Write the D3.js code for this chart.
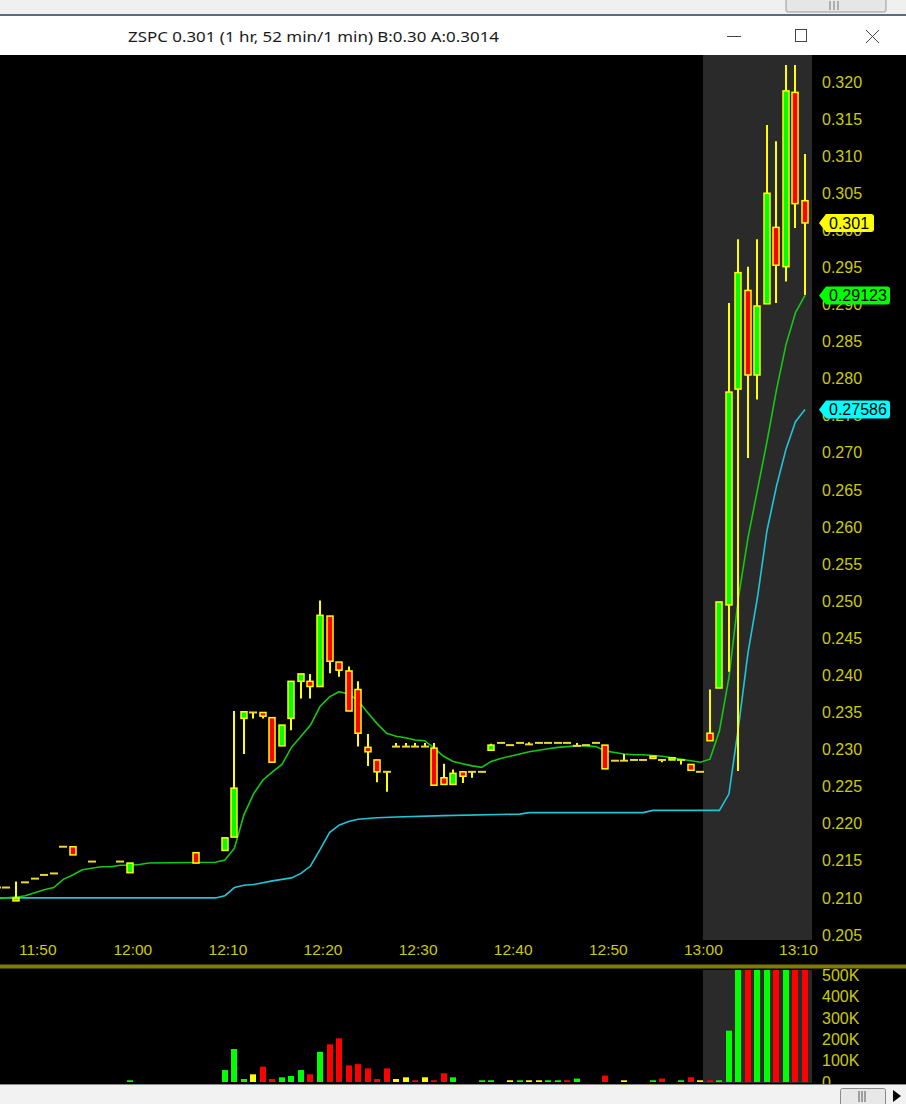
<!DOCTYPE html>
<html><head><meta charset="utf-8">
<script src="https://cdn.jsdelivr.net/npm/d3@7"></script>
<style>html,body{margin:0;padding:0;background:#000;}svg{display:block}</style>
</head><body>
<svg id="c" width="906" height="1104"></svg>
<script>
// ---------- DATA ----------
const titleText = "ZSPC 0.301 (1 hr, 52 min/1 min) B:0.30 A:0.3014";
const times  = ["11:46","11:47","11:48","11:49","11:50","11:51","11:52","11:53","11:54","11:56","11:59","12:00","12:07","12:10","12:11","12:12","12:13","12:14","12:15","12:16","12:17","12:18","12:19","12:20","12:21","12:22","12:23","12:24","12:25","12:26","12:27","12:28","12:29","12:30","12:31","12:32","12:33","12:34","12:35","12:36","12:37","12:38","12:39","12:40","12:41","12:42","12:43","12:44","12:45","12:46","12:47","12:48","12:49","12:50","12:51","12:52","12:53","12:54","12:55","12:56","12:57","12:58","12:59","13:00","13:01","13:02","13:03","13:04","13:05","13:06","13:07","13:08","13:09","13:10","13:11"];
const opens  = [.2114,.2114,.2096,.2121,.2126,.2131,.2133,.2169,.2169,.2149,.2149,.2134,.2161,.2164,.2182,.2342,.2350,.2350,.2343,.2305,.2342,.2392,.2392,.2385,.2480,.2418,.2406,.2381,.2303,.2286,.2270,.2304,.2304,.2304,.2304,.2302,.2262,.2253,.2270,.2270,.2270,.2299,.2309,.2306,.2309,.2307,.2309,.2309,.2309,.2309,.2305,.2306,.2309,.2306,.2285,.2285,.2286,.2286,.2288,.2286,.2286,.2286,.2280,.2270,.2322,.2383,.2495,.2786,.2919,.2805,.2901,.3004,.2951,.3186,.3040];
const highs  = [.2114,.2114,.2122,.2121,.2126,.2131,.2133,.2169,.2169,.2149,.2149,.2147,.2161,.2181,.2352,.2351,.2350,.2350,.2343,.2333,.2392,.2402,.2402,.2501,.2480,.2418,.2412,.2392,.2321,.2286,.2270,.2309,.2309,.2309,.2309,.2309,.2281,.2273,.2270,.2270,.2270,.2308,.2309,.2306,.2309,.2310,.2309,.2309,.2309,.2309,.2309,.2306,.2309,.2306,.2285,.2294,.2286,.2286,.2291,.2286,.2289,.2286,.2280,.2270,.2381,.2499,.2902,.2988,.2951,.2988,.3142,.3120,.3223,.3223,.3103];
const lows   = [.2114,.2114,.2096,.2121,.2126,.2131,.2133,.2169,.2158,.2149,.2149,.2134,.2147,.2164,.2182,.2294,.2342,.2342,.2283,.2305,.2326,.2369,.2369,.2385,.2403,.2398,.2352,.2304,.2278,.2256,.2243,.2304,.2304,.2304,.2304,.2252,.2253,.2253,.2255,.2262,.2270,.2299,.2309,.2306,.2309,.2307,.2309,.2309,.2309,.2309,.2305,.2306,.2309,.2274,.2285,.2285,.2286,.2286,.2288,.2283,.2286,.2280,.2272,.2270,.2312,.2383,.2405,.2271,.2693,.2772,.2901,.2902,.2931,.3003,.2913];
const closes = [.2114,.2114,.2100,.2121,.2126,.2131,.2133,.2169,.2158,.2149,.2149,.2147,.2147,.2181,.2248,.2351,.2350,.2345,.2283,.2333,.2392,.2402,.2385,.2481,.2419,.2407,.2352,.2322,.2297,.2270,.2270,.2304,.2304,.2304,.2304,.2252,.2253,.2268,.2264,.2270,.2270,.2306,.2309,.2306,.2309,.2307,.2309,.2309,.2309,.2309,.2305,.2306,.2309,.2274,.2285,.2285,.2286,.2286,.2291,.2286,.2289,.2286,.2272,.2270,.2312,.2499,.2782,.2943,.2805,.2898,.3050,.2953,.3188,.3036,.3010];
const volumes = [0,0,0,0,0,0,0,0,0,0,0,8000,0,56000,155000,14000,36000,72000,14000,22000,28000,56000,36000,142000,177000,205000,78000,84000,64000,14000,64000,14000,22000,8000,22000,8000,41000,22000,0,0,8000,8000,0,8000,8000,8000,8000,8000,8000,8000,16000,0,0,30000,0,8000,0,0,8000,16000,0,8000,22000,8000,8000,8000,241000,900000,800000,700000,700000,600000,900000,800000,600000];
const volColors = ["y","y","g","y","y","y","y","y","r","y","y","g","r","g","g","g","y","r","r","g","g","g","r","g","r","r","r","r","r","r","r","y","y","r","y","r","r","g","r","y","g","g","y","y","g","y","y","g","g","r","g","y","y","r","y","y","y","y","g","r","g","g","r","y","r","g","g","g","r","g","g","r","g","r","r"];

const fastTimes = ["11:46","11:48","11:49","11:50","11:51","11:52","11:53","11:54","11:55","11:56","11:57","11:58","11:59","12:00","12:01","12:02","12:09","12:10","12:11","12:12","12:13","12:14","12:15","12:16","12:17","12:18","12:19","12:20","12:21","12:22","12:23","12:24","12:25","12:26","12:27","12:28","12:29","12:30","12:31","12:32","12:33","12:34","12:35","12:36","12:37","12:38","12:39","12:40","12:41","12:42","12:43","12:44","12:45","12:46","12:47","12:48","12:49","12:50","12:51","12:52","12:53","12:54","12:55","12:56","12:57","12:58","12:59","13:00","13:01","13:02","13:03","13:04","13:05","13:06","13:07","13:08","13:09","13:10","13:11"];
const fastVals  = [.2099,.2101,.2103,.2107,.2111,.2114,.2125,.2131,.2138,.2140,.2142,.2142,.2144,.2144,.2145,.2147,.2148,.2151,.2167,.2212,.2240,.2259,.2270,.2280,.2303,.2318,.2333,.2358,.2371,.2378,.2375,.2366,.2350,.2335,.2322,.2318,.2316,.2313,.2312,.2302,.2291,.2284,.2281,.2278,.2276,.2284,.2288,.2291,.2294,.2297,.2299,.2301,.2303,.2304,.2305,.2305,.2304,.2298,.2296,.2294,.2293,.2293,.2292,.2291,.2289,.2287,.2285,.2283,.2287,.2325,.2397,.2505,.2585,.2650,.2715,.2785,.2846,.2889,.29123];
const slowTimes = ["11:46","12:09","12:10","12:11","12:12","12:13","12:15","12:17","12:18","12:19","12:20","12:21","12:22","12:23","12:24","12:26","12:28","12:33","12:41","12:42","12:54","12:55","13:02","13:03","13:04","13:05","13:06","13:07","13:08","13:09","13:10","13:11"];
const slowVals  = [.2100,.2100,.2103,.2114,.2117,.2118,.2123,.2127,.2133,.2143,.2165,.2188,.2198,.2203,.2206,.2208,.2209,.2211,.2213,.2215,.2215,.2218,.2218,.2240,.2330,.2430,.2505,.2595,.2655,.2705,.2742,.27586];

const priceTicks = [0.205,0.210,0.215,0.220,0.225,0.230,0.235,0.240,0.245,0.250,0.255,0.260,0.265,0.270,0.275,0.280,0.285,0.290,0.295,0.300,0.305,0.310,0.315,0.320];
const timeTicks = ["11:50","12:00","12:10","12:20","12:30","12:40","12:50","13:00","13:10"];
const volTicks = [0,100000,200000,300000,400000,500000];
const volTickLabels = ["0","100K","200K","300K","400K","500K"];
const shadeFrom = "13:00";

// ---------- LAYOUT ----------
const svg = d3.select('#c');
const W = 906, H = 1104;
const plotRight = 812, plotTop = 55, priceBottom = 940, sepY = 967, volTop = 970, volBottom = 1083;
const AX = "#cccc00";
const FONT = "'Liberation Sans', Arial, sans-serif";
const pt = s => { const [h,m] = s.split(':').map(Number); return h*60+m; };
const x = d3.scaleLinear().domain([pt("11:48"), pt("13:11")]).range([15.7, 805]);
const y = d3.scaleLinear().domain([0.205, 0.320]).range([935, 82]);
const yv = d3.scaleLinear().domain([0, 500000]).range([1082, 975.5]);

const candles = times.map((t,i)=>({t:pt(t),o:opens[i],h:highs[i],l:lows[i],c:closes[i],v:volumes[i],vc:volColors[i]}));
const colorOf = {g:"#00ff00", r:"#ff0000", y:"#ffff00"};

svg.append("rect").attr("width",W).attr("height",H).attr("fill","#000");
const defs = svg.append("defs");
defs.append("clipPath").attr("id","pclip").append("rect").attr("x",0).attr("y",plotTop).attr("width",plotRight).attr("height",sepY-3-plotTop);
defs.append("clipPath").attr("id","vclip").append("rect").attr("x",0).attr("y",volTop).attr("width",plotRight).attr("height",volBottom-volTop);

// shading (after-hours region)
const sx = x(pt(shadeFrom)) + 2.5;
svg.append("rect").attr("x",sx).attr("y",plotTop).attr("width",plotRight-sx).attr("height",priceBottom-plotTop).attr("fill","#2a2a2a");
svg.append("rect").attr("x",sx).attr("y",volTop).attr("width",plotRight-sx).attr("height",volBottom-volTop).attr("fill","#2a2a2a");

// separator
svg.append("rect").attr("x",0).attr("y",sepY-2.5).attr("width",W).attr("height",4).attr("fill","#7f7b0a");

// price axis
const pa = svg.append("g").attr("transform",`translate(818,0)`)
  .call(d3.axisRight(y).tickValues(priceTicks).tickFormat(d3.format(".3f")).tickSize(0).tickPadding(4));
pa.select(".domain").remove();
pa.selectAll("text").attr("fill",AX).style("font-family",FONT).style("font-size","16px");

// time axis
const ta = svg.append("g").attr("transform",`translate(2.5,${priceBottom})`)
  .call(d3.axisBottom(x).tickValues(timeTicks.map(pt)).tickFormat((d,i)=>timeTicks[i]).tickSize(0).tickPadding(4));
ta.select(".domain").remove();
ta.selectAll("text").attr("fill",AX).style("font-family",FONT).style("font-size","15.5px");

// volume axis
const va = svg.append("g").attr("transform",`translate(818,0)`)
  .call(d3.axisRight(yv).tickValues(volTicks).tickFormat((d,i)=>volTickLabels[i]).tickSize(0).tickPadding(4));
va.select(".domain").remove();
va.selectAll("text").attr("fill",AX).style("font-family",FONT).style("font-size","16px");

// EMA lines
const pg = svg.append("g").attr("clip-path","url(#pclip)");
const line = d3.line().x(d=>x(d[0])).y(d=>y(d[1]));
pg.append("path").datum(slowTimes.map((t,i)=>[pt(t),slowVals[i]])).attr("d",line)
  .attr("fill","none").attr("stroke","#22c4d8").attr("stroke-width",1.6);
pg.append("path").datum(fastTimes.map((t,i)=>[pt(t),fastVals[i]])).attr("d",line)
  .attr("fill","none").attr("stroke","#14c814").attr("stroke-width",1.6);

// candles
const cg = pg.append("g");
const bw = 6;
candles.forEach(d=>{
  const cx = Math.round(x(d.t));
  if (d.h > d.l) {
    cg.append("line").attr("x1",cx).attr("x2",cx).attr("y1",y(d.h)).attr("y2",y(d.l))
      .attr("stroke","#ffff00").attr("stroke-width",2);
  }
  if (d.o === d.c) {
    cg.append("line").attr("x1",cx-4).attr("x2",cx+4).attr("y1",y(d.c)).attr("y2",y(d.c))
      .attr("stroke","#e8d830").attr("stroke-width",2);
  } else {
    const top = y(Math.max(d.o,d.c)), bot = y(Math.min(d.o,d.c));
    cg.append("rect").attr("x",cx-bw/2).attr("y",top).attr("width",bw).attr("height",Math.max(bot-top,2))
      .attr("fill", d.c > d.o ? "#00ff00" : "#ff0000").attr("stroke","#ffff00").attr("stroke-width",1.5);
  }
});

// volume bars
const vg = svg.append("g").attr("clip-path","url(#vclip)");
vg.selectAll("rect").data(candles.filter(d=>d.v>0)).join("rect")
  .attr("x",d=>Math.round(x(d.t))-3).attr("width",6)
  .attr("y",d=>yv(d.v)).attr("height",d=>yv(0)-yv(d.v))
  .attr("fill",d=>colorOf[d.vc]);

// value flags
function flag(val, txt, fill, w){
  const cy = y(val);
  const g = svg.append("g");
  g.append("path").attr("d",`M${819},${cy} L${826},${cy-9} L${826+w},${cy-9} Q${829+w},${cy-9} ${829+w},${cy-6} L${829+w},${cy+6} Q${829+w},${cy+9} ${826+w},${cy+9} L${826},${cy+9} Z`)
    .attr("fill",fill);
  g.append("text").attr("x",829).attr("y",cy).attr("dy","0.36em").text(txt)
    .attr("fill","#000").style("font-family",FONT).style("font-size","16px");
}
const last = candles[candles.length-1];
flag(last.c, d3.format(".3f")(last.c), "#ffff00", 45);
flag(fastVals[fastVals.length-1], d3.format(".5f")(fastVals[fastVals.length-1]), "#00ff00", 61);
flag(slowVals[slowVals.length-1], d3.format(".5f")(slowVals[slowVals.length-1]), "#00ffff", 61);

// window chrome: top strip
svg.append("rect").attr("x",0).attr("y",0).attr("width",W).attr("height",15).attr("fill","#f0f0f0");
svg.append("rect").attr("x",786).attr("y",-2).attr("width",100).attr("height",14).attr("rx",2).attr("fill","#e6e6e6").attr("stroke","#9a9a9a");
[830,834,838].forEach(gx=>svg.append("line").attr("x1",gx).attr("x2",gx).attr("y1",1).attr("y2",10).attr("stroke","#777"));
svg.append("rect").attr("x",0).attr("y",14).attr("width",W).attr("height",2).attr("fill","#5d6b7d");
// title bar
svg.append("rect").attr("x",0).attr("y",16).attr("width",W).attr("height",plotTop-16).attr("fill","#ffffff");
svg.append("text").attr("x",128).attr("y",42).text(titleText)
  .attr("textLength",371).attr("lengthAdjust","spacingAndGlyphs")
  .attr("fill","#1a1a1a").style("font-family","'Noto Sans', 'Open Sans', sans-serif").style("font-size","15px");
svg.append("line").attr("x1",727).attr("x2",741).attr("y1",36.5).attr("y2",36.5).attr("stroke","#444").attr("stroke-width",1);
svg.append("rect").attr("x",795.5).attr("y",29.5).attr("width",11).attr("height",12).attr("fill","none").attr("stroke","#444").attr("stroke-width",1);
svg.append("path").attr("d","M866,30 L879,43 M879,30 L866,43").attr("stroke","#444").attr("stroke-width",1).attr("fill","none");

// bottom strip
svg.append("rect").attr("x",0).attr("y",1084).attr("width",W).attr("height",20).attr("fill","#f2f2f2");
svg.append("line").attr("x1",0).attr("x2",W).attr("y1",1084.5).attr("y2",1084.5).attr("stroke","#8a8a8a");
svg.append("rect").attr("x",840.5).attr("y",1088.5).attr("width",45).attr("height",18).attr("rx",2).attr("fill","#e8e8e8").attr("stroke","#8a8a8a");
[859,862,865].forEach(gx=>svg.append("line").attr("x1",gx).attr("x2",gx).attr("y1",1091).attr("y2",1102).attr("stroke","#555"));
svg.append("path").attr("d","M893,1090 L901,1096 L893,1102 Z").attr("fill","#000");
</script>
</body></html>
